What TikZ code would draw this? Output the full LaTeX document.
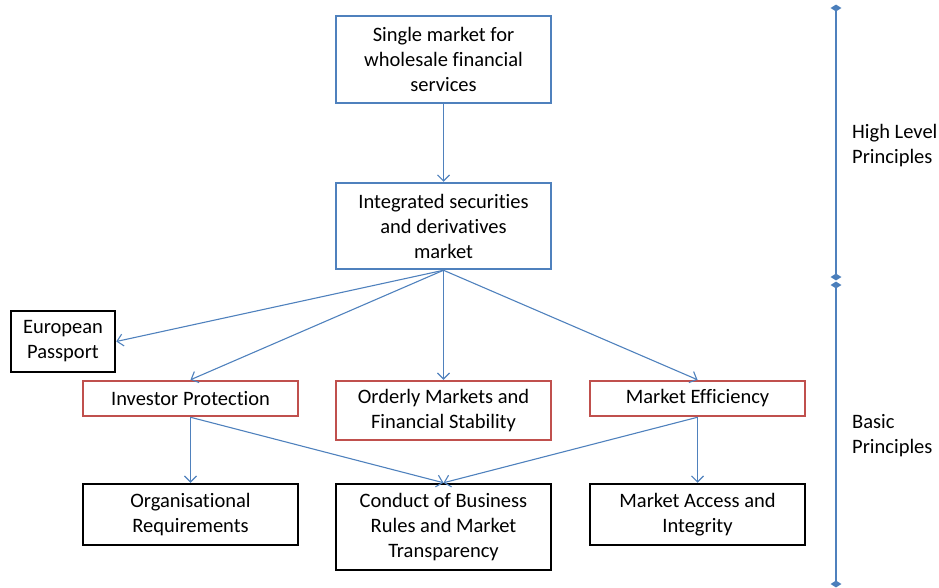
\documentclass[tikz,border=0pt]{standalone}
\usepackage{fontspec}
\setmainfont{Carlito}[Ligatures={NoCommon}]
\usetikzlibrary{arrows.meta,shapes.geometric}
\definecolor{oblue}{HTML}{4F81BD}
\definecolor{ored}{HTML}{C0504D}
\definecolor{dblue}{HTML}{4A7EBB}
\begin{document}
\begin{tikzpicture}[x=1pt,y=-1pt,
  box/.style={draw,rectangle,line width=2.5pt,align=center,inner sep=0pt,
    font=\fontsize{20.5}{25}\selectfont},
  bluebox/.style={box,draw=oblue},
  redbox/.style={box,draw=ored},
  blackbox/.style={box,draw=black},
  conn/.style={draw=oblue,line width=1.1pt,-{Straight Barb[length=6pt,width=12pt]}},
  lbl/.style={align=left,anchor=north west,inner sep=0pt,font=\fontsize{20.5}{25}\selectfont},
  dmd/.style={diamond,fill=dblue,inner sep=0pt,minimum width=11pt,minimum height=7pt}
]
\useasboundingbox (0,0) rectangle (939,587);
\node[bluebox,minimum width=215pt,minimum height=87pt] (a) at (443.5,59.5) {Single market for\\wholesale financial\\services};
\node[bluebox,minimum width=215pt,minimum height=86pt] (b) at (443.5,226) {Integrated securities\\and derivatives\\market};
\node[blackbox,minimum width=104pt,minimum height=61pt] (ep) at (63,341.5) {European\\Passport};
\node[redbox,minimum width=215pt,minimum height=35pt] (ip) at (190.5,398.5) {Investor Protection};
\node[redbox,minimum width=215pt,minimum height=59pt] (om) at (443.5,410.5) {Orderly Markets and\\Financial Stability};
\node[redbox,minimum width=215pt,minimum height=35pt] (me) at (697.5,398.5) {Market Efficiency};
\node[blackbox,minimum width=215pt,minimum height=61pt] (or) at (190.5,514.5) {Organisational\\Requirements};
\node[blackbox,minimum width=215pt,minimum height=86pt] (cb) at (443.5,527) {Conduct of Business\\Rules and Market\\Transparency};
\node[blackbox,minimum width=215pt,minimum height=61pt] (ma) at (697.5,514.5) {Market Access and\\Integrity};

\draw[conn] (a.south) -- (b.north);
\draw[conn] (b.south) -- (ep.east);
\draw[conn] (b.south) -- (ip.north);
\draw[conn] (b.south) -- (om.north);
\draw[conn] (b.south) -- (me.north);
\draw[conn] (ip.south) -- (or.north);
\draw[conn] (ip.south) -- (cb.north);
\draw[conn] (me.south) -- (cb.north);
\draw[conn] (me.south) -- (ma.north);

\node[dmd] (d1) at (836,8) {};
\node[dmd] (d2) at (836,277) {};
\node[dmd] (d3) at (836,285) {};
\node[dmd] (d4) at (836,584) {};
\draw[oblue,line width=1.6pt] (d1.center) -- (d2.center);
\draw[oblue,line width=1.6pt] (d3.center) -- (d4.center);
\node[lbl] (hl) at (852,124) {High Level\\Principles};
\node[lbl] (bp) at (852,414) {Basic\\Principles};
\end{tikzpicture}
\end{document}
